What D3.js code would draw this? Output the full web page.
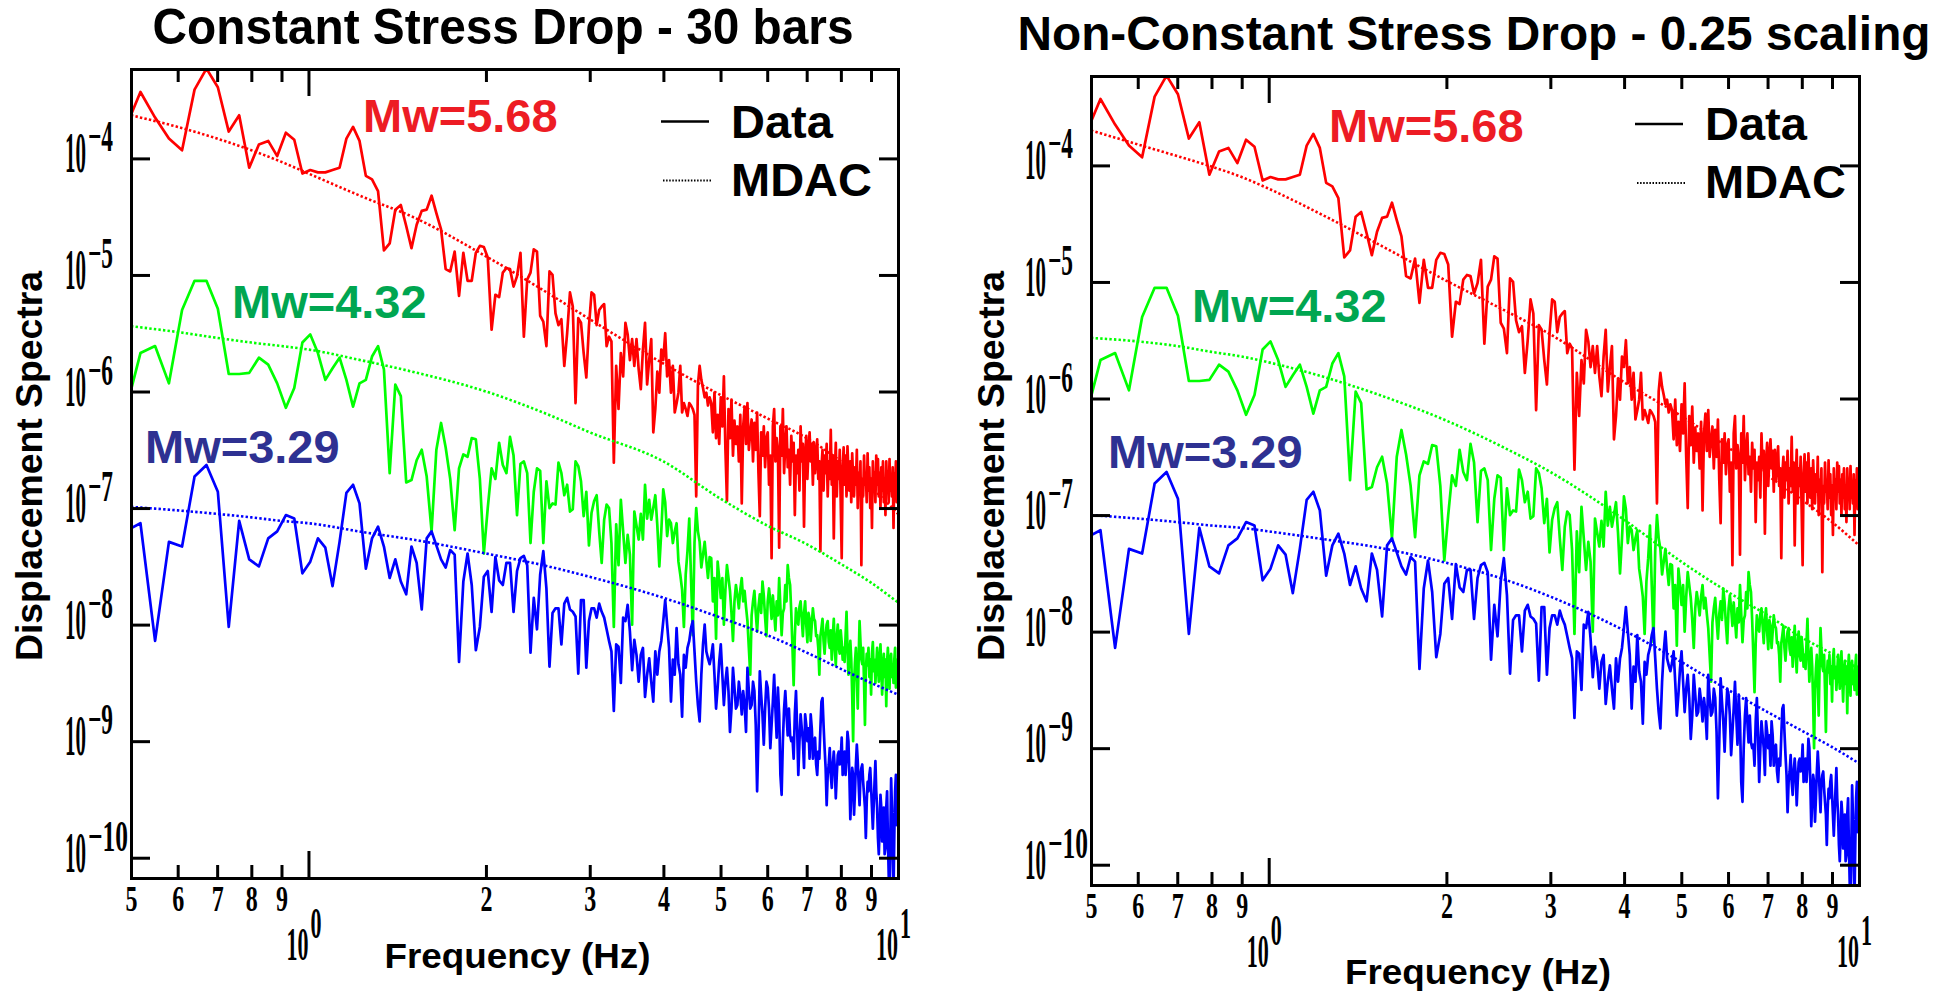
<!DOCTYPE html>
<html lang="en">
<head>
<meta charset="UTF-8" />
<title>Displacement spectra - data vs MDAC</title>
<script src="https://cdnjs.cloudflare.com/ajax/libs/d3/7.8.5/d3.min.js"></script>
<style>
  body { margin: 0; background: #fff; }
  svg { display: block; }
  text { font-family: "Liberation Sans", Arial, sans-serif; font-weight: bold; }
  .num { font-family: "Liberation Serif", "DejaVu Serif", serif; font-weight: bold; }
</style>
</head>
<body>
<svg id="chart" width="1954" height="998"></svg>
<script>
// spectra are sampled every DF Hz, first sample is bin K0
const DF = 0.0305176;
const K0 = 16;

// log10 of displacement spectra (same recordings in both panels)
const redLog = [
  -3.75, -3.43, -3.65, -3.83, -3.93, -3.41, -3.23, -3.39, -3.77, -3.63,
  -4.08, -3.88, -3.85, -3.98, -3.78, -3.84, -4.13, -4.10, -4.12, -4.12,
  -4.10, -4.08, -3.83, -3.73, -3.85, -4.15, -4.18, -4.28, -4.79, -4.73,
  -4.44, -4.40, -4.58, -4.77, -4.57, -4.45, -4.44, -4.32, -4.47, -4.61,
  -4.95, -4.97, -4.80, -5.18, -4.81, -5.05, -5.05, -4.81, -4.75, -4.76,
  -4.85, -5.47, -5.17, -5.19, -4.98, -4.94, -4.95, -5.10, -5.01, -4.81,
  -5.53, -5.04, -4.98, -4.78, -4.80, -5.35, -5.40, -5.61, -4.97, -5.00,
  -5.33, -5.43, -5.38, -5.78, -5.50, -5.15, -5.27, -6.10, -5.37, -5.41,
  -5.67, -5.88, -5.44, -5.15, -5.17, -5.43, -5.30, -5.27, -5.25, -5.61,
  -5.53, -5.57, -6.61, -5.78, -6.15, -5.67, -5.87, -5.41, -5.51, -5.73,
  -5.55, -5.78, -5.55, -5.81, -5.98, -5.64, -5.41, -5.94, -5.73, -5.55,
  -6.35, -6.15, -5.83, -6.01, -5.64, -5.73, -5.50, -5.87, -5.73, -6.01,
  -5.78, -6.18, -6.10, -6.01, -5.78, -6.18, -6.10, -6.15, -6.21, -6.10,
  -6.12, -6.15, -6.20, -6.90, -5.94, -5.78, -5.90, -5.97, -6.05, -6.01, -6.12, -6.05,
  -6.10, -6.35, -6.01, -6.40, -6.20, -6.45, -6.05, -6.30, -5.87, -6.50, -6.94,
  -6.15, -6.40, -6.07, -6.55, -6.25, -6.45, -6.30, -6.60, -6.20, -6.96, -6.30,
  -6.13, -6.45, -6.10, -6.50, -6.35, -6.24, -6.60, -6.27, -6.50, -6.18, -6.70, -7.07, -6.35,
  -6.55, -6.30, -6.65, -6.40, -6.35, -6.80, -6.55, -7.43, -6.30, -6.15, -6.60, -6.40,
  -6.50, -7.34, -6.30, -6.55, -6.15, -6.70, -6.45, -6.30, -6.65, -6.50, -6.80, -6.38, -6.60, -6.44,
  -7.06, -6.55, -6.70, -6.50, -6.85, -6.30, -6.60, -6.45, -7.16, -6.55, -6.38, -6.75, -6.50, -6.35,
  -6.60, -6.45, -6.80, -6.44, -6.70, -6.55, -6.41, -6.75, -6.60, -7.37, -6.65, -6.50, -6.85, -6.55, -6.70, -6.45, -6.90,
  -6.60, -6.75, -6.33, -6.80, -6.55, -7.26, -6.70, -6.44, -6.90, -6.60, -6.75, -6.50, -6.95, -7.43, -6.65, -6.48,
  -6.80, -6.55, -6.90, -6.47, -6.70, -6.85, -6.60, -6.95, -6.53, -6.75, -6.90, -6.65, -6.80, -6.50, -7.00, -6.70, -6.85, -6.60,
  -7.49, -6.75, -6.90, -6.55, -6.80, -6.70, -6.95, -6.53, -6.85, -6.65, -7.00, -6.75, -7.17, -6.60, -6.85, -6.70, -6.95, -6.55,
  -6.80, -6.58, -6.90, -6.70, -7.00, -6.65, -6.85, -6.60, -6.95, -6.75, -7.06, -6.60, -6.80, -6.70,
  -6.95, -6.58, -6.85, -6.75, -6.90, -6.65, -7.17, -6.70, -6.85, -6.60, -6.95, -6.75, -6.80
];

const greenLog = [
  -6.19, -5.67, -5.61, -5.93, -5.30, -5.05, -5.05, -5.29, -5.85, -5.85,
  -5.84, -5.71, -5.77, -5.93, -6.14, -5.97, -5.58, -5.51, -5.67, -5.90,
  -5.80, -5.71, -5.90, -6.13, -5.93, -5.90, -5.70, -5.61, -5.81, -6.70,
  -5.94, -6.04, -6.78, -6.76, -6.59, -6.50, -6.73, -7.20, -6.50, -6.27,
  -6.48, -6.75, -7.19, -6.66, -6.54, -6.56, -6.40, -6.41, -6.75, -7.39,
  -7.00, -6.66, -6.75, -6.44, -6.63, -6.70, -6.39, -6.55, -7.06, -6.62,
  -6.60, -6.70, -7.30, -6.86, -6.66, -6.68, -7.30, -6.77, -7.00, -6.96,
  -6.97, -6.61, -6.70, -6.89, -6.80, -7.03, -7.01, -6.60, -6.64, -6.77,
  -7.07, -6.86, -7.32, -7.04, -6.94, -6.89, -7.20, -7.47, -7.10, -6.97,
  -7.00, -7.30, -8.02, -7.14, -7.49, -6.93, -7.20, -7.47, -7.23, -7.40,
  -8.00, -7.03, -7.15, -7.27, -7.05, -7.27, -6.80, -7.09, -6.93, -7.10,
  -7.00, -6.89, -7.15, -7.50, -7.20, -6.84, -6.95, -7.24, -7.10, -7.13,
  -7.30, -7.20, -7.13, -7.46, -7.57, -7.70, -8.02, -7.57, -7.37, -7.09,
  -7.60, -8.09, -7.30, -7.00, -7.20, -7.29, -7.51, -7.40, -7.29, -7.45, -7.60, -7.42,
  -7.43, -7.80, -7.60, -8.12, -7.46, -7.60, -7.77, -7.60, -8.00, -7.70, -7.49,
  -7.60, -7.71, -7.90, -8.14, -7.80, -7.66, -7.75, -7.86, -7.70, -7.60, -7.80,
  -7.71, -7.85, -7.97, -8.20, -8.43, -7.92, -7.80, -7.71, -7.90, -8.06, -7.85, -7.74, -7.90,
  -7.63, -7.75, -7.94, -8.10, -7.80, -7.69, -7.80, -7.95, -7.75, -7.90, -8.05, -7.80,
  -7.92, -7.60, -7.85, -8.09, -7.90, -7.86, -7.66, -7.80, -7.49, -7.60, -7.66, -7.90, -8.20, -8.52,
  -8.10, -7.86, -7.95, -8.00, -7.85, -7.80, -7.95, -8.10, -7.90, -7.80, -8.00, -8.15, -7.90, -7.95,
  -8.14, -8.00, -7.86, -7.95, -7.97, -8.10, -8.09, -8.20, -8.43, -8.10, -8.03, -7.95, -8.14, -8.25, -8.09, -8.00, -7.97,
  -8.15, -8.20, -8.05, -8.30, -8.10, -7.95, -8.20, -8.35, -8.10, -8.00, -8.20, -8.25, -8.05, -8.15, -8.30, -8.20,
  -8.32, -8.10, -7.89, -8.20, -8.43, -8.25, -8.14, -8.30, -8.60, -9.00, -8.50, -8.32, -8.20, -8.45, -8.72, -8.30, -7.97, -8.15,
  -8.30, -8.34, -8.20, -8.50, -8.86, -8.40, -8.25, -8.35, -8.20, -8.45, -8.30, -8.60, -8.25, -8.15, -8.40, -8.30, -8.50, -8.35,
  -8.20, -8.35, -8.49, -8.30, -8.17, -8.40, -8.60, -8.37, -8.25, -8.45, -8.30, -8.70, -8.32, -8.20,
  -8.40, -8.55, -8.30, -8.25, -8.45, -8.35, -8.50, -8.30, -8.20, -8.54, -8.40, -8.30, -8.45
];

const blueLog = [
  -7.20, -7.13, -8.14, -7.29, -7.33, -6.73, -6.63, -6.86, -8.02, -7.11,
  -7.44, -7.50, -7.26, -7.20, -7.06, -7.09, -7.56, -7.46, -7.26, -7.34,
  -7.67, -7.29, -6.87, -6.80, -6.96, -7.52, -7.26, -7.16, -7.33, -7.60,
  -7.44, -7.63, -7.74, -7.33, -7.47, -7.87, -7.26, -7.20, -7.32, -7.44,
  -7.51, -7.36, -7.40, -8.32, -7.63, -7.39, -7.66, -8.22, -8.02, -7.59,
  -7.54, -7.89, -7.42, -7.62, -7.66, -7.47, -7.47, -7.89, -7.54, -7.43,
  -7.41, -7.49, -8.24, -7.77, -8.04, -7.57, -7.37, -7.69, -8.36, -7.90,
  -7.86, -7.86, -8.17, -7.82, -7.77, -7.87, -7.89, -7.93, -8.42, -7.79,
  -7.79, -8.37, -7.97, -7.86, -7.86, -7.94, -7.82, -7.89, -7.94, -8.04,
  -8.14, -8.23, -8.74, -8.17, -8.19, -8.50, -7.94, -7.97, -7.83, -8.06,
  -8.39, -8.13, -8.26, -8.49, -8.26, -8.20, -8.62, -8.43, -8.29, -8.49,
  -8.66, -8.23, -8.43, -8.23, -8.14, -7.97, -7.79, -8.00, -8.20, -8.66,
  -8.30, -8.43, -8.03, -8.34, -8.43, -8.79, -8.26, -8.37, -8.20, -8.14,
  -8.03, -7.97, -8.23, -8.49, -8.69, -8.83, -8.43, -8.17, -8.00, -8.23, -8.29, -8.34,
  -8.27, -8.17, -8.43, -8.72, -8.54, -8.32, -8.17, -8.43, -8.69, -8.49, -8.37,
  -8.57, -8.92, -8.72, -8.37, -8.54, -8.72, -8.69, -8.49, -8.60, -8.77, -8.57,
  -8.69, -8.92, -8.37, -8.57, -8.72, -8.69, -8.49, -8.57, -8.86, -9.43, -8.95, -8.40, -8.60,
  -8.77, -9.03, -8.72, -8.49, -8.54, -8.72, -9.06, -8.86, -8.66, -8.43, -8.72, -8.97,
  -8.54, -8.77, -9.29, -9.46, -9.00, -8.72, -8.57, -8.77, -8.95, -8.72, -8.95, -9.00, -8.97, -9.15,
  -8.77, -8.57, -8.89, -9.29, -9.00, -8.77, -8.89, -9.00, -9.23, -8.77, -8.86, -9.00, -8.89, -9.15,
  -8.77, -8.89, -9.15, -9.00, -8.97, -9.20, -9.29, -9.09, -9.15, -8.89, -8.66, -8.63, -8.86, -9.06, -9.23, -9.55, -9.29,
  -9.20, -9.06, -9.29, -9.40, -9.20, -9.09, -9.23, -9.49, -9.29, -9.12, -9.09, -9.20, -9.15, -8.97, -9.29, -9.20,
  -9.09, -9.29, -9.15, -8.92, -9.00, -9.29, -9.67, -9.46, -9.23, -9.29, -9.63, -9.43, -9.20, -9.03, -9.17, -9.37, -9.55, -9.29,
  -9.23, -9.20, -9.35, -9.46, -9.57, -9.83, -9.52, -9.35, -9.43, -9.29, -9.23, -9.40, -9.57, -9.75, -9.55, -9.35, -9.17, -9.43,
  -9.57, -9.83, -9.97, -9.75, -9.46, -9.57, -9.86, -9.72, -9.57, -9.97, -9.92, -9.57, -9.43, -9.83,
  -10.15, -10.32, -9.86, -9.32, -9.57, -9.97, -10.29, -9.80, -9.43, -9.29, -9.72, -9.57, -9.46
];

// MDAC model spectra (log10), read at these frequencies
const mdacFreq = [0.5, 0.6, 0.7, 0.8, 0.9, 1, 1.25, 1.5, 2, 2.5, 3, 4, 5, 6, 7, 8, 9, 10];
const mdacRedConst   = [-3.63, -3.73, -3.83, -3.93, -4.03, -4.13, -4.34, -4.50, -4.84, -5.13, -5.38, -5.76, -6.03, -6.23, -6.40, -6.60, -6.82, -7.05];
const mdacGreenConst = [-5.44, -5.49, -5.54, -5.58, -5.61, -5.64, -5.74, -5.83, -6.00, -6.18, -6.35, -6.60, -6.92, -7.15, -7.31, -7.48, -7.64, -7.81];
const mdacBlueConst  = [-6.99, -7.02, -7.05, -7.08, -7.11, -7.13, -7.21, -7.27, -7.39, -7.49, -7.59, -7.77, -7.94, -8.09, -8.24, -8.38, -8.50, -8.60];
const mdacRedVar     = [-3.70, -3.82, -3.92, -4.01, -4.10, -4.20, -4.44, -4.65, -4.99, -5.24, -5.45, -5.86, -6.15, -6.42, -6.66, -6.87, -7.06, -7.26];
const mdacGreenVar   = [-5.48, -5.51, -5.55, -5.60, -5.64, -5.69, -5.82, -5.95, -6.19, -6.42, -6.63, -7.04, -7.40, -7.66, -7.86, -8.05, -8.19, -8.32];
const mdacBlueVar    = [-7.00, -7.03, -7.06, -7.09, -7.11, -7.14, -7.21, -7.27, -7.41, -7.55, -7.70, -7.99, -8.26, -8.50, -8.69, -8.85, -8.99, -9.13];

const titles = ["Constant Stress Drop - 30 bars", "Non-Constant Stress Drop - 0.25 scaling"];
const mwLabels = ["Mw=5.68", "Mw=4.32", "Mw=3.29"];
const xTickVals = [0.5, 0.6, 0.7, 0.8, 0.9, 1, 2, 3, 4, 5, 6, 7, 8, 9, 10];
const xMinorLabels = ["5", "6", "7", "8", "9", "", "2", "3", "4", "5", "6", "7", "8", "9", ""];
const yDecades = [-4, -5, -6, -7, -8, -9, -10];
const Y_LO = -10.174, Y_HI = -3.233;

const lineColors = ["#ff0000", "#00ff00", "#0000ff"];
const labelColors = ["#ed1c24", "#00a651", "#2e3192"];

const freqs = redLog.map((_, i) => (K0 + i) * DF);
const dataSeries = [redLog, greenLog, blueLog];

const svg = d3.select("#chart");

// "10" with a raised exponent, kept in one text element
function powerLabel(g, xStart, baseline, exp, o) {
  const t = g.append("text").attr("class", "num")
    .attr("x", xStart).attr("y", baseline);
  t.append("tspan")
    .attr("font-size", o.baseSize)
    .attr("textLength", o.baseW).attr("lengthAdjust", "spacingAndGlyphs")
    .text("10");
  t.append("tspan")
    .attr("font-size", o.expSize).attr("dx", 2).attr("dy", -o.rise)
    .attr("textLength", o.expW).attr("lengthAdjust", "spacingAndGlyphs")
    .text(exp);
}

function drawPanel(p) {
  const g = svg.append("g");
  const x = d3.scaleLog().domain([0.5, 10]).range([p.left, p.right]);
  const y = d3.scaleLog().domain([Math.pow(10, Y_LO), Math.pow(10, Y_HI)]).range([p.bottom, p.top]);

  const clipId = "clip" + p.id;
  svg.append("clipPath").attr("id", clipId)
    .append("rect")
    .attr("x", p.left).attr("y", p.top)
    .attr("width", p.right - p.left).attr("height", p.bottom - p.top);

  const plot = g.append("g").attr("clip-path", `url(#${clipId})`);

  const line = d3.line().x(d => x(d[0])).y(d => y(Math.pow(10, d[1])));
  dataSeries.forEach((s, i) => {
    plot.append("path")
      .datum(s.map((v, j) => [freqs[j], v]))
      .attr("d", line)
      .attr("fill", "none")
      .attr("stroke", lineColors[i])
      .attr("stroke-width", 2.7)
      .attr("stroke-linejoin", "round");
  });

  const smooth = d3.line().x(d => x(d[0])).y(d => y(Math.pow(10, d[1]))).curve(d3.curveMonotoneX);
  p.mdac.forEach((s, i) => {
    plot.append("path")
      .datum(s.map((v, j) => [mdacFreq[j], v]))
      .attr("d", smooth)
      .attr("fill", "none")
      .attr("stroke", lineColors[i])
      .attr("stroke-width", 2.6)
      .attr("stroke-dasharray", "2.4 2.2");
  });

  // axes: ticks point inward on all four sides
  const isMajor = d => d === 1 || d === 10;
  const bottom = g.append("g")
    .attr("transform", `translate(0,${p.bottom})`)
    .call(d3.axisBottom(x).tickValues(xTickVals).tickSizeInner(-13).tickSizeOuter(0)
      .tickFormat((d, i) => xMinorLabels[i]));
  const top = g.append("g")
    .attr("transform", `translate(0,${p.top})`)
    .call(d3.axisTop(x).tickValues(xTickVals).tickSizeInner(-13).tickSizeOuter(0).tickFormat(""));
  bottom.selectAll(".tick line").filter(isMajor).attr("y2", -27);
  top.selectAll(".tick line").filter(isMajor).attr("y2", 27);

  const decadeVals = yDecades.map(e => Math.pow(10, e));
  const left = g.append("g")
    .attr("transform", `translate(${p.left},0)`)
    .call(d3.axisLeft(y).tickValues(decadeVals).tickSizeInner(-19).tickSizeOuter(0).tickFormat(""));
  const right = g.append("g")
    .attr("transform", `translate(${p.right},0)`)
    .call(d3.axisRight(y).tickValues(decadeVals).tickSizeInner(-19).tickSizeOuter(0).tickFormat(""));
  left.selectAll(".tick text").remove();
  right.selectAll(".tick text").remove();
  top.selectAll(".tick text").remove();

  [bottom, top, left, right].forEach(a => {
    a.select(".domain").attr("stroke", "#000").attr("stroke-width", 3).attr("stroke-linecap", "square");
    a.selectAll(".tick line").attr("stroke", "#000").attr("stroke-width", 3);
  });

  bottom.selectAll(".tick").filter(isMajor).select("text").remove();
  bottom.selectAll(".tick text")
    .attr("class", "num")
    .attr("fill", "#000")
    .attr("font-size", 35)
    .attr("y", 33).attr("dy", null)
    .attr("textLength", 12)
    .attr("lengthAdjust", "spacingAndGlyphs");

  // decade labels 10^0, 10^1 under the minor digits
  [1, 10].forEach((d, i) => {
    powerLabel(g, x(d) - 22, p.bottom + 82, String(i),
      { baseSize: 46, baseW: 22, expSize: 44, expW: 11, rise: 22 });
  });

  yDecades.forEach(e => {
    const ty = y(Math.pow(10, e));
    const ex = "\u2212" + String(-e);
    powerLabel(g, p.left - 66, ty + 14, ex,
      { baseSize: 57, baseW: 21, expSize: 44, expW: ex.length > 2 ? 40 : 25, rise: 21 });
  });

  // titles and axis names
  g.append("text")
    .attr("x", p.titleX).attr("y", p.titleY)
    .attr("text-anchor", "middle").attr("font-size", p.titleSize)
    .attr("textLength", p.titleW).attr("lengthAdjust", "spacingAndGlyphs")
    .text(p.title);
  g.append("text")
    .attr("x", (p.left + p.right) / 2 + 3).attr("y", p.xLabelY)
    .attr("text-anchor", "middle").attr("font-size", 35)
    .attr("textLength", 266).attr("lengthAdjust", "spacingAndGlyphs")
    .text("Frequency (Hz)");
  g.append("text")
    .attr("transform", `translate(${p.yLabelX},466) rotate(-90)`)
    .attr("text-anchor", "middle").attr("font-size", 37)
    .attr("textLength", 390).attr("lengthAdjust", "spacingAndGlyphs")
    .text("Displacement Spectra");

  // magnitude labels
  mwLabels.forEach((t, i) => {
    g.append("text")
      .attr("x", p.mw[i][0]).attr("y", p.mw[i][1])
      .attr("font-size", 47).attr("fill", labelColors[i])
      .text(t);
  });

  // legend
  const lg = p.legend;
  g.append("line").attr("x1", lg[0]).attr("x2", lg[0] + 48)
    .attr("y1", lg[1] - 16).attr("y2", lg[1] - 16)
    .attr("stroke", "#000").attr("stroke-width", 2.4);
  g.append("line").attr("x1", lg[0] + 2).attr("x2", lg[0] + 50)
    .attr("y1", lg[1] + 43).attr("y2", lg[1] + 43)
    .attr("stroke", "#000").attr("stroke-width", 2).attr("stroke-dasharray", "1.5 1.6");
  g.append("text").attr("x", lg[0] + 70).attr("y", lg[1]).attr("font-size", 47).text("Data");
  g.append("text").attr("x", lg[0] + 70).attr("y", lg[1] + 58).attr("font-size", 47).text("MDAC");
}

drawPanel({
  id: "L", left: 131, right: 898, top: 69, bottom: 878,
  title: titles[0], titleX: 503, titleY: 44, titleW: 701, titleSize: 50,
  xLabelY: 968, yLabelX: 42,
  mdac: [mdacRedConst, mdacGreenConst, mdacBlueConst],
  mw: [[363, 131.5], [232, 318], [145, 463]],
  legend: [661, 137.5]
});

drawPanel({
  id: "R", left: 1091, right: 1859, top: 76, bottom: 885,
  title: titles[1], titleX: 1474, titleY: 50, titleW: 913, titleSize: 48,
  xLabelY: 984, yLabelX: 1004,
  mdac: [mdacRedVar, mdacGreenVar, mdacBlueVar],
  mw: [[1329, 141.5], [1192, 321.5], [1108, 468]],
  legend: [1635, 140]
});
</script>
</body>
</html>
